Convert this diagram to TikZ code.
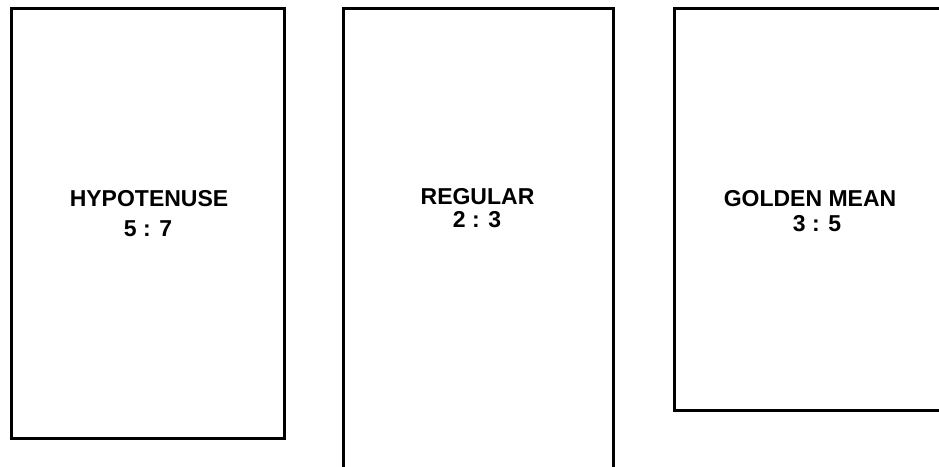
\documentclass[tikz,border=0pt]{standalone}
\usepackage{fontspec}
\setmainfont{Liberation Sans}
\begin{document}
\begin{tikzpicture}[x=1pt,y=1pt,
  frame/.style={line width=3pt, line join=miter},
  lbl/.style={font=\bfseries\fontsize{23}{25}\selectfont, inner sep=0pt, anchor=center}]
\useasboundingbox (0,0) rectangle (939,466);
\begin{scope}
\clip (0,0) rectangle (939,466);
% left: hypotenuse
\draw[frame] (11,{466-8.5}) rectangle (284.5,{466-438.5});
% middle: regular (runs off bottom)
\draw[frame] (343.5,-5) -- (343.5,{466-8.5}) -- (613.5,{466-8.5}) -- (613.5,-5);
% right: golden mean (runs off right)
\draw[frame] (945,{466-8.5}) -- (674,{466-8.5}) -- (674,{466-410}) -- (945,{466-410});
\end{scope}
\node[lbl] (h1) at (149,{466-199}) {HYPOTENUSE};
\node[lbl] (h2) at (148,{466-229}) {5 : 7};
\node[lbl] (r1) at (477.5,{466-196.5}) {REGULAR};
\node[lbl] (r2) at (477,{466-220}) {2 : 3};
\node[lbl] (g1) at (810,{466-198.5}) {GOLDEN MEAN};
\node[lbl] (g2) at (817,{466-224}) {3 : 5};
\end{tikzpicture}
\end{document}
